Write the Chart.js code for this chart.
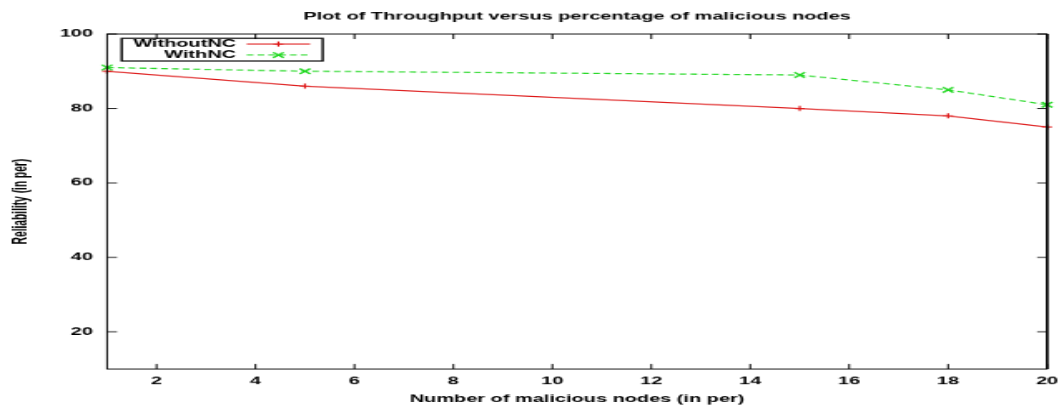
<!DOCTYPE html>
<html><head><meta charset="utf-8">
<script src="https://cdn.jsdelivr.net/npm/chart.js@4/dist/chart.umd.min.js"></script>
<style>
html,body{margin:0;padding:0;background:#fff;overflow:hidden;width:1064px;height:408px;}
#wrap{position:absolute;left:0;top:0;width:640px;height:480px;transform-origin:0 0;transform:scale(1.6625,0.85);}
canvas{display:block;}
</style></head><body>
<div id="wrap"><canvas id="c" width="640" height="480"></canvas></div>
<script>
const chartTitle = 'Plot of Throughput versus percentage of malicious nodes';
const xTitle = 'Number of malicious nodes (in per)';
const yTitle = 'Reliability (in per)';
const nodes = [1, 5, 15, 18, 20];
const withoutNC = [90, 86, 80, 78, 75];
const withNC = [91, 90, 89, 85, 81];
const seriesNames = ['WithoutNC', 'WithNC'];
const xTicks = [2, 4, 6, 8, 10, 12, 14, 16, 18, 20];
const yTicks = [20, 40, 60, 80, 100];

const FONT = {family: "'Liberation Sans', Arial, sans-serif", size: 12, weight: 'bold'};
const TICK = 6;

function drawMarker(ctx, style, r, x, y) {
  ctx.beginPath();
  if (style === 'cross') {
    ctx.moveTo(x - r, y); ctx.lineTo(x + r, y);
    ctx.moveTo(x, y - r); ctx.lineTo(x, y + r);
  } else {
    const d = Math.cos(Math.PI / 4) * r;
    ctx.moveTo(x - d, y - d); ctx.lineTo(x + d, y + d);
    ctx.moveTo(x - d, y + d); ctx.lineTo(x + d, y - d);
  }
  ctx.stroke();
}

const framePlugin = {
  id: 'frame',
  afterDatasetsDraw(chart) {
    const {ctx, chartArea: a, scales: {x, y}} = chart;
    ctx.save();
    ctx.strokeStyle = '#000';
    ctx.lineWidth = 1;
    ctx.setLineDash([]);
    ctx.beginPath();
    x.ticks.forEach(t => {
      const p = x.getPixelForValue(t.value);
      ctx.moveTo(p, a.bottom); ctx.lineTo(p, a.bottom - TICK);
      ctx.moveTo(p, a.top); ctx.lineTo(p, a.top + TICK);
    });
    y.ticks.forEach(t => {
      const p = y.getPixelForValue(t.value);
      ctx.moveTo(a.left, p); ctx.lineTo(a.left + TICK, p);
      ctx.moveTo(a.right, p); ctx.lineTo(a.right - TICK, p);
    });
    ctx.stroke();
    ctx.strokeRect(a.left, a.top, a.right - a.left, a.bottom - a.top);
    ctx.lineWidth = 1.6;
    ctx.beginPath(); ctx.moveTo(a.right, a.top); ctx.lineTo(a.right, a.bottom); ctx.stroke();

    // legend
    const bx = a.left + 8.8, by = a.top + 5.1, bw = 120.9, bh = 26.7;
    ctx.lineWidth = 1.4;
    ctx.strokeRect(bx, by, bw, bh);
    ctx.font = 'bold 12px ' + FONT.family;
    ctx.textAlign = 'right';
    ctx.textBaseline = 'middle';
    const rows = [6.7, 19.6];
    chart.data.datasets.forEach((ds, i) => {
      const ry = by + rows[i];
      ctx.fillStyle = '#000';
      ctx.fillText(ds.label, bx + 68.8, ry);
      ctx.strokeStyle = ds.borderColor;
      ctx.lineWidth = ds.borderWidth;
      ctx.setLineDash(ds.borderDash || []);
      ctx.beginPath(); ctx.moveTo(bx + 75.2, ry); ctx.lineTo(bx + 113.3, ry); ctx.stroke();
      ctx.setLineDash([]);
      ctx.lineWidth = ds.pointBorderWidth;
      drawMarker(ctx, ds.pointStyle, ds.pointRadius, bx + 94.25, ry);
    });
    ctx.restore();
  }
};

new Chart(document.getElementById('c'), {
  type: 'line',
  data: {
    datasets: [
      {
        label: seriesNames[0],
        data: nodes.map((n, i) => ({x: n, y: withoutNC[i]})),
        borderColor: '#dd1515', backgroundColor: '#dd1515',
        borderWidth: 1.3, pointStyle: 'cross', pointRadius: 3, pointBorderWidth: 1.2,
        pointBorderColor: '#dd1515', tension: 0, clip: false, fill: false
      },
      {
        label: seriesNames[1],
        data: nodes.map((n, i) => ({x: n, y: withNC[i]})),
        borderColor: '#22d822', backgroundColor: '#22d822',
        borderWidth: 1.3, borderDash: [4, 2.5], pointStyle: 'crossRot', pointRadius: 4.5, pointBorderWidth: 1.5,
        pointBorderColor: '#22d822', tension: 0, clip: false, fill: false
      }
    ]
  },
  options: {
    responsive: false,
    maintainAspectRatio: false,
    animation: false,
    devicePixelRatio: 1,
    events: [],
    layout: {padding: {left: 0, right: 10.2, top: 0, bottom: 0}},
    plugins: {
      legend: {display: false},
      tooltip: {enabled: false},
      title: {
        display: true, text: chartTitle, color: '#000', font: FONT, fullSize: false,
        padding: {top: 12.4, bottom: 13.2}
      }
    },
    scales: {
      x: {
        type: 'linear', min: 1, max: 20,
        afterBuildTicks: s => { s.ticks = xTicks.map(v => ({value: v})); },
        afterFit: s => { s.height = 45.9; s.paddingLeft = 0; s.paddingRight = 0; },
        grid: {display: false, drawTicks: false},
        border: {display: false},
        ticks: {color: '#000', font: FONT, padding: 6.9, autoSkip: false, maxRotation: 0},
        title: {display: true, text: xTitle, color: '#000', font: FONT, padding: {top: 0, bottom: 3.4}}
      },
      y: {
        type: 'linear', min: 10, max: 100,
        afterBuildTicks: s => { s.ticks = yTicks.map(v => ({value: v})); },
        afterFit: s => { s.width = 64.4; s.paddingTop = 0; s.paddingBottom = 0; },
        grid: {display: false, drawTicks: false},
        border: {display: false},
        ticks: {color: '#000', font: FONT, padding: 8.5, autoSkip: false},
        title: {display: true, text: yTitle, color: '#000', font: FONT, padding: {top: 5.4, bottom: 0}}
      }
    }
  },
  plugins: [framePlugin]
});
</script>
</body></html>
